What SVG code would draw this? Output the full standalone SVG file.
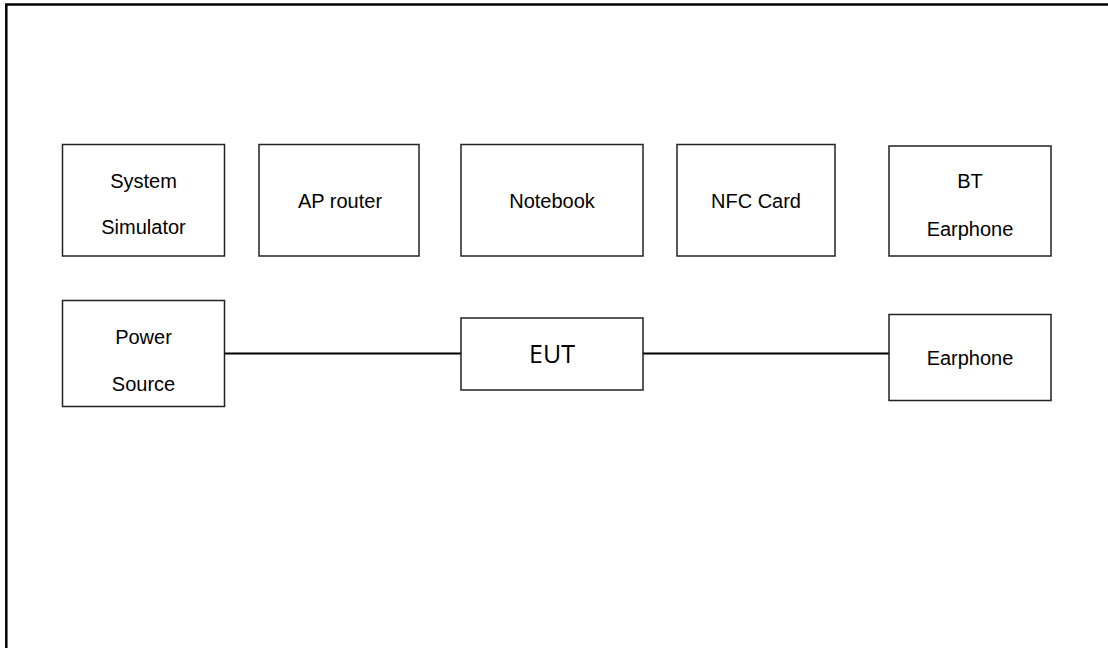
<svg xmlns="http://www.w3.org/2000/svg" width="1108" height="648" viewBox="0 0 1108 648">
<style>
.box{fill:#fff;stroke:#222;stroke-width:1.5}
.t{font-family:"Liberation Sans",Arial,sans-serif;font-size:20px;fill:#000;text-anchor:middle}
.e{font-family:"Open Sans","Noto Sans",sans-serif;font-size:25px;fill:#000;text-anchor:middle}
.c{stroke:#000;stroke-width:2;fill:none}
</style>
<rect x="0" y="0" width="1108" height="648" fill="#fff"/>
<rect x="6.3" y="4.5" width="1120" height="660" fill="none" stroke="#000" stroke-width="2.5"/>
<g id="connectors">
<line class="c" x1="224" y1="353.5" x2="461" y2="353.5"/>
<line class="c" x1="643" y1="353.5" x2="889" y2="353.5"/>
</g>
<g id="system-simulator">
<rect class="box" x="62.5" y="144.5" width="162" height="111.5"/>
<text class="t" x="143.5" y="188">System</text>
<text class="t" x="143.5" y="234">Simulator</text>
</g>
<g id="ap-router">
<rect class="box" x="259" y="144.5" width="160" height="111.5"/>
<text class="t" x="340" y="208">AP router</text>
</g>
<g id="notebook">
<rect class="box" x="461" y="144.5" width="182" height="111.5"/>
<text class="t" x="552" y="208">Notebook</text>
</g>
<g id="nfc-card">
<rect class="box" x="677" y="144.5" width="158" height="111.5"/>
<text class="t" x="756" y="208">NFC Card</text>
</g>
<g id="bt-earphone">
<rect class="box" x="889" y="146" width="162" height="110"/>
<text class="t" x="970" y="187.5">BT</text>
<text class="t" x="970" y="236">Earphone</text>
</g>
<g id="power-source">
<rect class="box" x="62.5" y="300.5" width="162" height="106"/>
<text class="t" x="143.5" y="343.5">Power</text>
<text class="t" x="143.5" y="391">Source</text>
</g>
<g id="eut">
<rect class="box" x="461" y="318" width="182" height="72"/>
<text class="e" x="552" y="362.5">EUT</text>
</g>
<g id="earphone">
<rect class="box" x="889" y="314.5" width="162" height="86"/>
<text class="t" x="970" y="365">Earphone</text>
</g>
</svg>
